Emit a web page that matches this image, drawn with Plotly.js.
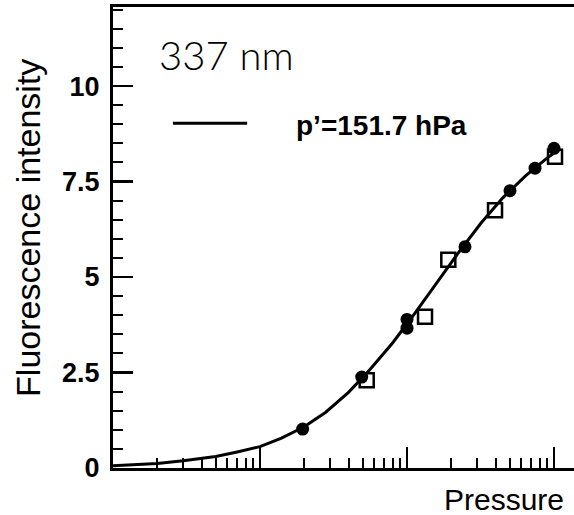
<!DOCTYPE html>
<html><head><meta charset="utf-8">
<script src="https://cdn.plot.ly/plotly-3.0.1.min.js"></script>
<style>html,body{margin:0;padding:0;background:#fff}#c{width:574px;height:515px}</style>
</head><body><div id="c"></div>
<script>
// Fitted curve
const curveP = [1, 1.5, 2, 3, 4, 5, 7, 10, 14, 20, 28, 40, 56, 80, 113, 160, 226, 320, 450, 640, 900, 1050];
const curveF = [0.06, 0.09, 0.12, 0.19, 0.25, 0.30, 0.42, 0.56, 0.78, 1.08, 1.46, 1.98, 2.58, 3.28, 4.05, 4.85, 5.66, 6.42, 7.08, 7.65, 8.12, 8.30];
// Filled circles
const circP = [19.5, 49.2, 100, 100, 248, 502, 743, 1000];
const circF = [1.02, 2.38, 3.89, 3.66, 5.79, 7.26, 7.85, 8.37];
// Open squares
const sqP = [53.2, 132.6, 191, 397, 1016];
const sqF = [2.30, 3.96, 5.45, 6.75, 8.15];
// Axis ticks
const yTicks = [0, 2.5, 5, 7.5, 10];
const yTickText = ['0', '2.5', '5', '7.5', '10'];
const xMajor = [10, 100, 1000];
const xMinor = [2,3,4,5,6,7,8,9,20,30,40,50,60,70,80,90,200,300,400,500,600,700,800,900];

const traces = [
  {x: curveP, y: curveF, mode: 'lines', line: {color: '#000', width: 3}, hoverinfo: 'skip'},
  {x: circP, y: circF, mode: 'markers', marker: {symbol: 'circle', size: 13, color: '#000'}},
  {x: sqP, y: sqF, mode: 'markers', marker: {symbol: 'square-open', size: 14, color: '#000', line: {width: 2.5, color: '#000'}}}
];

const layout = {
  width: 574, height: 515,
  margin: {l: 113, r: 0, t: 7, b: 47},
  paper_bgcolor: '#fff', plot_bgcolor: '#fff',
  showlegend: false,
  xaxis: {
    type: 'log', range: [0, 3.136],
    showline: true, linecolor: '#000', linewidth: 3, mirror: true,
    showgrid: false, zeroline: false,
    tickvals: xMajor, ticks: 'inside', ticklen: 21, tickwidth: 2, tickcolor: '#000',
    showticklabels: false,
    minor: {tickvals: xMinor, ticks: 'inside', ticklen: 10, tickwidth: 2, tickcolor: '#000', showgrid: false}
  },
  yaxis: {
    range: [0, 12.07],
    showline: true, linecolor: '#000', linewidth: 3, mirror: false,
    showgrid: false, zeroline: false,
    tickvals: yTicks, ticktext: yTickText.map(t => '<b>' + t + '</b>'),
    ticks: 'inside', ticklen: 20, tickwidth: 2.5, tickcolor: '#000',
    tickfont: {family: 'Liberation Sans, Arial, sans-serif', size: 27, color: '#000'},
    ticklabelstandoff: 5,
    minor: {dtick: 0.5, ticks: 'inside', ticklen: 10, tickwidth: 2, tickcolor: '#000', showgrid: false}
  },
  shapes: [
    {type: 'line', xref: 'paper', yref: 'paper', x0: 0.130, x1: 0.291, y0: 0.748, y1: 0.748, line: {color: '#000', width: 3}}
  ],
  annotations: [
    {text: '337 nm', xref: 'paper', yref: 'paper', x: 0.247, y: 0.896, xanchor: 'center', yanchor: 'middle', showarrow: false,
     font: {family: 'Lato, sans-serif', size: 40, color: '#000', weight: 300}},
    {text: '<b>p’=151.7 hPa</b>', xref: 'paper', yref: 'paper', x: 0.392, y: 0.744, xanchor: 'left', yanchor: 'middle', showarrow: false,
     font: {family: 'Liberation Sans, Arial, sans-serif', size: 28, color: '#000'}},
    {text: 'Fluorescence intensity', xref: 'paper', yref: 'paper', x: -0.183, y: 0.52, xanchor: 'center', yanchor: 'middle', textangle: -90, showarrow: false,
     font: {family: 'Liberation Sans, Arial, sans-serif', size: 34, color: '#000'}},
    {text: 'Pressure', xref: 'paper', yref: 'paper', x: 0.848, y: -0.069, xanchor: 'center', yanchor: 'middle', showarrow: false,
     font: {family: 'Liberation Sans, Arial, sans-serif', size: 30, color: '#000'}}
  ]
};

Plotly.newPlot('c', traces, layout, {staticPlot: true, displayModeBar: false});
</script></body></html>
